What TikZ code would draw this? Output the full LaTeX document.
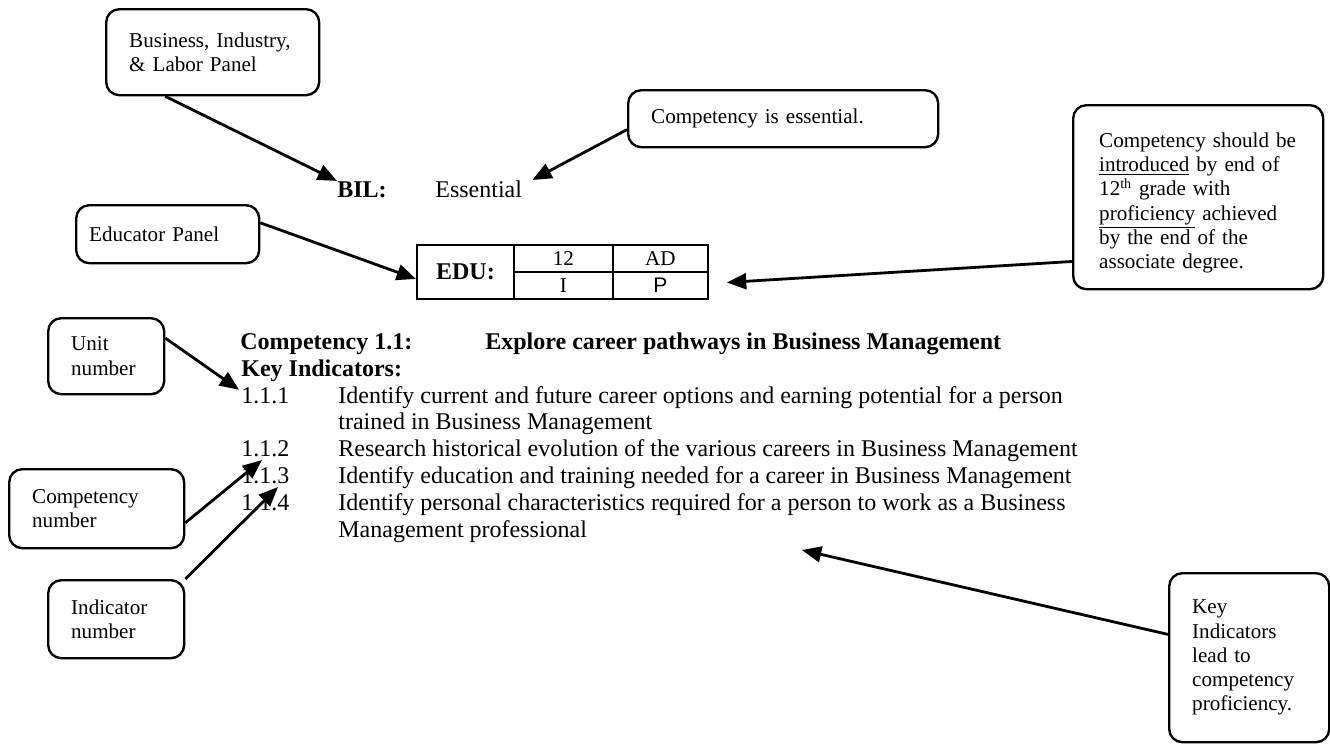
\documentclass[tikz,border=0pt]{standalone}
\usepackage{fontspec}
\setmainfont{Liberation Serif}
\newfontfamily\arialfont{Liberation Sans}
\usetikzlibrary{arrows.meta,calc}

\begin{document}
\begin{tikzpicture}[scale=0.2]
\tikzstyle{every node}+=[inner sep=0pt]
\tikzstyle{panel}=[draw=black, line width=1.35pt, rounded corners=7.5pt, anchor=north west, align=left, inner xsep=0.46cm, font=\fontsize{12}{13.8}\selectfont]
\tikzstyle{body}=[anchor=base west, font=\fontsize{13.66}{15}\selectfont]
\tikzstyle{cell}=[draw=black, line width=1.1pt, anchor=north west, minimum height=0.54cm, font=\fontsize{12}{13.8}\selectfont]
\tikzstyle{pointer}=[black, line width=1.6pt, -{Triangle[length=11pt,width=9pt]}]
\useasboundingbox (0,0) rectangle (133,-74.4);
\node[panel, text width=3.34cm, minimum height=1.72cm] (bilpanel) at (10.5,-0.8) {Business, Industry,\\ \& Labor Panel};
\node[panel, text width=5.28cm, minimum height=1.14cm] (essbox) at (62.7,-8.9) {Competency is essential.};
\node[panel, inner xsep=0.26cm, text width=3.14cm, minimum height=1.16cm] (edupanel) at (7.5,-20.4) {Educator Panel};
\node[panel, inner xsep=0.52cm, text width=3.96cm, minimum height=3.68cm] (intro) at (107.2,-10.4) {\rule{0pt}{15pt}Competency should be\\ \underline{introduced} by end of\\ 12\textsuperscript{th} grade with\\ \underline{proficiency} achieved\\ by the end of the\\ associate degree.};
\node[panel, text width=1.4cm, minimum height=1.52cm] (unitbox) at (4.7,-31.7) {Unit\\ number};
\node[panel, text width=2.58cm, minimum height=1.58cm] (compbox) at (0.8,-46.8) {Competency\\ number};
\node[panel, text width=1.8cm, minimum height=1.56cm] (indbox) at (4.7,-57.9) {Indicator\\ number};
\node[panel, text width=2.28cm, minimum height=3.38cm] (keybox) at (116.8,-57.2) {Key\\ Indicators\\ lead to\\ competency\\ proficiency.};
\node[body] (bil) at (33.7,-19.7) {\textbf{BIL:}};
\node[body] (ess) at (43.5,-19.7) {Essential};
\node[cell, minimum width=1.94cm, minimum height=1.08cm, font=\fontsize{13.66}{15}\selectfont\bfseries] (edu) at (41.6,-24.4) {EDU:};
\node[cell, minimum width=1.98cm] (c12) at (51.3,-24.4) {12};
\node[cell, minimum width=1.9cm] (cad) at (61.2,-24.4) {AD};
\node[cell, minimum width=1.98cm] (ci) at (51.3,-27.1) {I};
\node[cell, minimum width=1.9cm] (cp) at (61.2,-27.1) {\arialfont P};
\node[body] (comp) at (24.0,-34.9) {\textbf{Competency 1.1:}};
\node[body] (explore) at (48.5,-34.9) {\textbf{Explore career pathways in Business Management}};
\node[body] (keyind) at (24.1,-37.6) {\textbf{Key Indicators:}};
\node[body] (n111) at (24.1,-40.3) {1.1.1};
\node[body] (t111) at (33.8,-40.3) {Identify current and future career options and earning potential for a person};
\node[body] (t111b) at (33.8,-42.9) {trained in Business Management};
\node[body] (n112) at (24.1,-45.6) {1.1.2};
\node[body] (t112) at (33.8,-45.6) {Research historical evolution of the various careers in Business Management};
\node[body] (n113) at (24.1,-48.3) {1.1.3};
\node[body] (t113) at (33.8,-48.3) {Identify education and training needed for a career in Business Management};
\node[body] (n114) at (24.1,-51.0) {1.1.4};
\node[body] (t114) at (33.8,-51.0) {Identify personal characteristics required for a person to work as a Business};
\node[body] (t114b) at (33.8,-53.7) {Management professional};
\coordinate (kitip) at (80.2,-55.0);
\draw[pointer] (bilpanel.223) -- (bil.north west);
\draw[pointer] (essbox.184) -- ($(ess.north east)+(1,0)$);
\draw[pointer] (edupanel.7) -- (edu.188);
\draw[pointer] (intro.207) -- ($(cp.east)+(1.8,0.3)$);
\draw[pointer] (unitbox.17) -- ($(n111.north west)+(-0.2,-0.3)$);
\draw[pointer] (compbox.-9) -- ($(n112.base west)+(2.1,-0.4)$);
\draw[pointer] (indbox.north east) -- ($(n113.base west)+(3.7,-0.4)$);
\draw[pointer] (keybox.164) -- (kitip);
\end{tikzpicture}
\end{document}
